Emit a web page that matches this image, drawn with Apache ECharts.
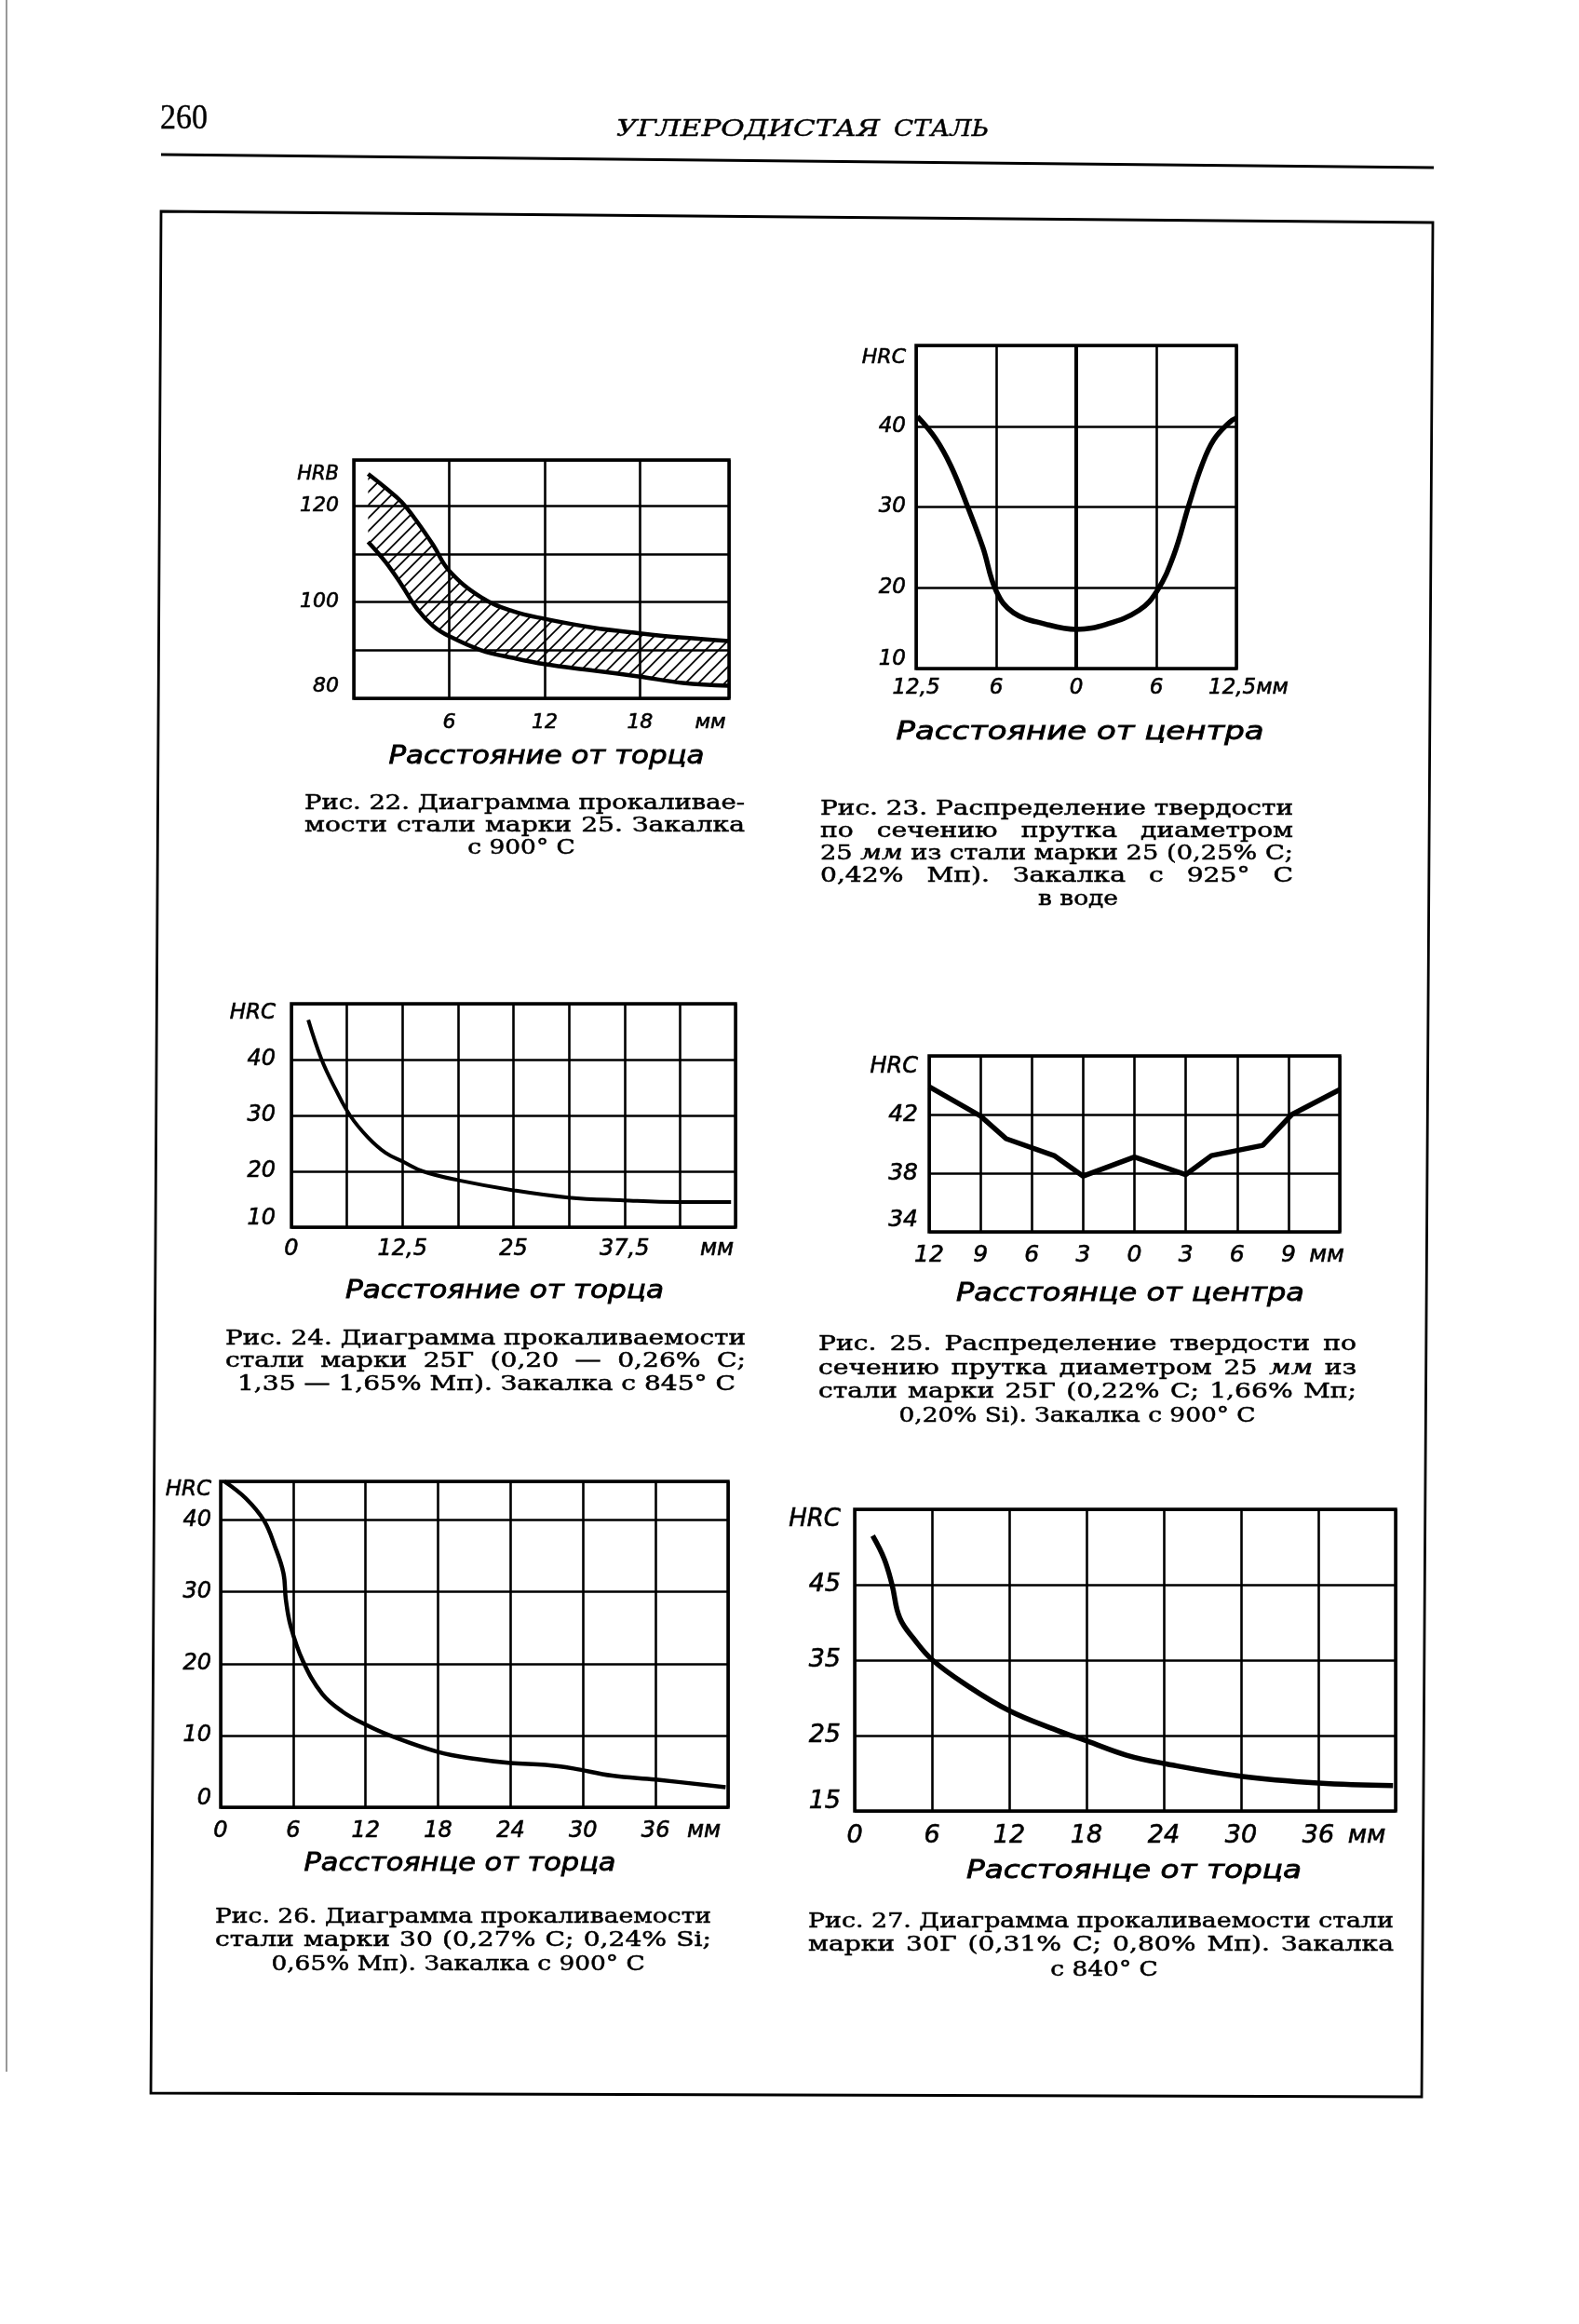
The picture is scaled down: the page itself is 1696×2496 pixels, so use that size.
<!DOCTYPE html>
<html lang="ru">
<head>
<meta charset="utf-8">
<title>Углеродистая сталь — с. 260</title>
<script src="https://cdn.jsdelivr.net/npm/echarts@6/dist/echarts.min.js"></script>
<style>
  html, body { margin: 0; padding: 0; background: #fff; }
  #page { width: 1696px; height: 2496px; }
</style>
</head>
<body>
<div id="page"></div>
<script>
// values (mm, HRB / HRC)

// Рис. 22 — band of hardenability, steel 25
const fig22X = [0.9, 2, 3, 4, 5, 6, 8, 10, 12, 15, 18, 20.7, 23.6];
const fig22Upper = [126.6, 123.7, 120.8, 116.6, 111.8, 106.5, 101.0, 98.1, 96.5, 94.7, 93.5, 92.6, 91.9];
const fig22Lower = [112.5, 108.3, 103.6, 98.5, 95.0, 92.9, 90.0, 88.4, 87.1, 85.8, 84.5, 83.2, 82.6];
const fig22XTicks = [6, 12, 18, 23.6];
const fig22XLabels = ['6', '12', '18', 'мм'];
const fig22YTicks = [80, 100, 120, 129.5];
const fig22YLabels = ['80', '100', '120', 'HRB'];

// Рис. 23 — hardness across the bar section, steel 25
const fig23X = [-11.9, -10.55, -9.4, -8.2, -7.0, -6.0, -4.7, -2.3, 0, 2.3, 4.7, 6.05, 7.3, 8.45, 9.4, 10.3, 11.5, 12];
const fig23Hrc = [41.2, 38.5, 35.1, 30.3, 25.0, 19.6, 16.9, 15.5, 14.85, 15.5, 17.2, 19.6, 24.0, 30.3, 35.1, 38.3, 40.5, 41.0];
const fig23XTicks = [-12, -6, 0, 6, 12];
const fig23XLabels = ['12,5', '6', '0', '6', '12,5мм'];
const fig23YTicks = [10, 20, 30, 40, 50];
const fig23YLabels = ['10', '20', '30', '40', 'HRC'];

// Рис. 24 — hardenability, steel 25Г
const fig24X = [1.9, 3.4, 5.0, 6.6, 8.6, 10.6, 12.6, 14.8, 18.8, 25, 31.2, 37.4, 43.6, 49.5];
const fig24Hrc = [47.1, 40.0, 34.6, 30.0, 26.1, 23.3, 21.7, 20.0, 18.4, 16.6, 15.3, 14.8, 14.5, 14.5];
const fig24XTicks = [0, 12.5, 25, 37.5, 50];
const fig24XLabels = ['0', '12,5', '25', '37,5', 'мм'];
const fig24YTicks = [10, 20, 30, 40, 50];
const fig24YLabels = ['10', '20', '30', '40', 'HRC'];

// Рис. 25 — hardness across the bar section, steel 25Г
const fig25X = [-12, -9, -7.5, -4.7, -3, 0, 3, 4.5, 7.5, 9.2, 12];
const fig25Hrc = [43.9, 41.9, 40.35, 39.2, 37.8, 39.1, 37.9, 39.2, 39.9, 42.0, 43.7];
const fig25XTicks = [-12, -9, -6, -3, 0, 3, 6, 9, 12];
const fig25XLabels = ['12', '9', '6', '3', '0', '3', '6', '9', 'мм'];
const fig25YTicks = [34, 38, 42, 46];
const fig25YLabels = ['34', '38', '42', 'HRC'];

// Рис. 26 — hardenability, steel 30
const fig26X = [0.3, 2.1, 3.6, 4.5, 5.2, 5.4, 5.8, 6.8, 8.4, 10.1, 12.0, 14.0, 18.0, 21.2, 24.0, 26.9, 29.2, 32.4, 36.0, 41.8];
const fig26Hrc = [45.4, 43.0, 39.9, 36.3, 32.6, 28.9, 25.2, 20.4, 15.8, 13.3, 11.5, 10.0, 7.7, 6.7, 6.15, 5.9, 5.4, 4.4, 3.85, 2.8];
const fig26XTicks = [0, 6, 12, 18, 24, 30, 36, 42];
const fig26XLabels = ['0', '6', '12', '18', '24', '30', '36', 'мм'];
const fig26YTicks = [0, 10, 20, 30, 40, 45.4];
const fig26YLabels = ['0', '10', '20', '30', '40', 'HRC'];

// Рис. 27 — hardenability, steel 30Г
const fig27X = [1.4, 2.3, 2.9, 3.5, 4.7, 6.05, 8.5, 12.0, 15.7, 18.0, 21.1, 24.0, 30.0, 36.0, 41.8];
const fig27Hrc = [51.5, 48.4, 45.0, 40.6, 37.6, 35.0, 31.9, 28.3, 25.7, 24.3, 22.4, 21.3, 19.6, 18.7, 18.35];
const fig27XTicks = [0, 6, 12, 18, 24, 30, 36, 42];
const fig27XLabels = ['0', '6', '12', '18', '24', '30', '36', 'мм'];
const fig27YTicks = [15, 25, 35, 45, 55];
const fig27YLabels = ['15', '25', '35', '45', 'HRC'];

// captions
const cap22 = ['Рис. 22. Диаграмма прокаливае-', 'мости стали  марки 25. Закалка', 'с 900° С'];
const cap23 = ['Рис. 23. Распределение твердости', 'по сечению прутка диаметром', '25 мм из стали марки 25 (0,25% С;', '0,42% Мп). Закалка с 925° С', 'в воде'];
const cap24 = ['Рис. 24. Диаграмма прокаливаемости', 'стали марки 25Г (0,20 — 0,26% С;', '1,35 — 1,65% Мп). Закалка с 845° С'];
const cap25 = ['Рис. 25. Распределение твердости по', 'сечению прутка диаметром 25 мм из', 'стали марки 25Г (0,22% С; 1,66% Мп;', '0,20% Si). Закалка с 900° С'];
const cap26 = ['Рис. 26. Диаграмма прокаливаемости', 'стали марки 30 (0,27% С; 0,24% Si;', '0,65% Мп). Закалка с 900° С'];
const cap27 = ['Рис. 27. Диаграмма прокаливаемости стали', 'марки 30Г (0,31% С; 0,80% Мп). Закалка', 'с 840° С'];

const INK = '#000';
const LABEL_FAMILY = '"DejaVu Sans", sans-serif';
const TITLE_FONT = 'italic 27px "DejaVu Sans"';
const CAPTION_FONT = '22px "DejaVu Serif"';

const grids = [], xAxes = [], yAxes = [], series = [], graphics = [];

const measure = document.createElement('canvas').getContext('2d');
function textWidth(str, font) {
  measure.font = font;
  return measure.measureText(str).width;
}
function near(a, b) { return Math.abs(a - b) < 1e-6; }
function lookup(ticks, labels, v) {
  for (let i = 0; i < ticks.length; i++) {
    if (near(ticks[i], v)) return labels[i];
  }
  return '';
}

// diagonal "/" hatching tile for the band of fig. 22
function hatchTile(step, width) {
  const c = document.createElement('canvas');
  c.width = step; c.height = step;
  const g = c.getContext('2d');
  g.strokeStyle = INK; g.lineWidth = width;
  g.beginPath();
  g.moveTo(0, step); g.lineTo(step, 0);
  g.moveTo(-step / 2, step / 2); g.lineTo(step / 2, -step / 2);
  g.moveTo(step / 2, step * 1.5); g.lineTo(step * 1.5, step / 2);
  g.stroke();
  return c;
}

function text(str, x, y, font, opts) {
  const o = opts || {};
  graphics.push({
    type: 'text', x: x, y: y, scaleX: o.scaleX || 1, silent: true,
    style: {
      text: str, font: font, fill: INK, stroke: INK, lineWidth: o.weight || 0.5,
      align: o.align || 'left', verticalAlign: 'middle',
      textAlign: o.align || 'left', textVerticalAlign: 'middle'
    }
  });
}
// stretch a string to fill [x0, x1]
function fitText(str, x0, x1, y, font, weight) {
  text(str, x0, y, font, { scaleX: (x1 - x0) / textWidth(str, font), weight: weight });
}
// spread the words of a caption line over [x0, x1]
function justify(line, x0, x1, y) {
  const words = line.split(/\s+/);
  const fonts = words.map(w => (w === 'мм' ? 'italic ' : '') + CAPTION_FONT);
  const ws = words.map((w, i) => textWidth(w, fonts[i]));
  const sum = ws.reduce((a, b) => a + b, 0);
  const natural = sum + textWidth(' ', CAPTION_FONT) * (words.length - 1);
  const k = Math.min(1.28, Math.max(0.85, (x1 - x0) / natural));
  const gap = words.length > 1 ? (x1 - x0 - k * sum) / (words.length - 1) : 0;
  let x = x0;
  words.forEach((w, i) => {
    text(w, x, y, fonts[i], { scaleX: k });
    x += k * ws[i] + gap;
  });
}
function caption(lines, ys, x0, x1, last) {
  lines.forEach((line, i) => {
    if (i < lines.length - 1) justify(line, x0, x1, ys[i]);
    else if (last.range) justify(line, last.range[0], last.range[1], ys[i]);
    else text(line, last.center, ys[i], CAPTION_FONT, { align: 'center', scaleX: 1.2 });
  });
}

function panel(p) {
  const idx = grids.length;
  const fs = p.fontSize;
  const base = {
    fontStyle: 'italic', fontFamily: LABEL_FAMILY, fontSize: fs, color: INK,
    textBorderColor: INK, textBorderWidth: 0.6
  };
  grids.push({
    left: p.box[0], top: p.box[1], width: p.box[2], height: p.box[3],
    show: true, borderColor: INK, borderWidth: 3.5, backgroundColor: 'transparent'
  });
  const unitPad = p.x.unitPad || 0;
  xAxes.push({
    gridIndex: idx, type: 'value', min: p.x.min, max: p.x.max, interval: p.x.interval,
    axisLine: { show: false }, axisTick: { show: false },
    splitLine: { show: true, lineStyle: { color: INK, width: 2.6 } },
    axisLabel: Object.assign({}, base, {
      margin: p.x.margin, showMinLabel: true, showMaxLabel: true,
      formatter: v => {
        const s = lookup(p.x.ticks, p.x.labels, v);
        if (s && near(v, p.x.max)) return '{unit|' + s + '}';
        return s;
      },
      rich: {
        unit: Object.assign({}, base, {
          padding: unitPad >= 0 ? [0, unitPad, 0, 0] : [0, 0, 0, -unitPad]
        })
      }
    })
  });
  yAxes.push({
    gridIndex: idx, type: 'value', min: p.y.min, max: p.y.max, interval: p.y.interval,
    axisLine: { show: false }, axisTick: { show: false },
    splitLine: { show: true, lineStyle: { color: INK, width: 2.6 } },
    axisLabel: Object.assign({}, base, {
      margin: p.y.margin, showMinLabel: true, showMaxLabel: true,
      formatter: v => {
        const s = lookup(p.y.ticks, p.y.labels, v);
        if (!s) return '';
        if (near(v, p.y.max)) return '{hdr|' + s + '}';
        if (near(v, p.y.min)) return '{low|' + s + '}';
        return s;
      },
      rich: {
        hdr: Object.assign({}, base, { fontSize: Math.round(fs * 0.95), padding: [p.y.topPad, 0, 0, 0] }),
        low: Object.assign({}, base, { padding: [0, 0, p.y.botPad, 0] })
      }
    })
  });
  fitText(p.title.text, p.title.cx - p.title.w / 2, p.title.cx + p.title.w / 2, p.title.y, TITLE_FONT, 0.8);
  return idx;
}

function curve(idx, xs, ys, extra) {
  return Object.assign({
    type: 'line', xAxisIndex: idx, yAxisIndex: idx,
    data: xs.map((x, i) => [x, ys[i]]),
    symbol: 'none', showSymbol: false, smooth: 0.4,
    lineStyle: { color: INK, width: 4.5 }, itemStyle: { color: INK },
    silent: true, z: 3
  }, extra || {});
}

// ---- Рис. 22
const p22 = panel({
  box: [380, 494, 403, 256], fontSize: 22,
  x: { min: 0, max: 23.6, interval: 6, ticks: fig22XTicks, labels: fig22XLabels, margin: 15, unitPad: 40 },
  y: { min: 80, max: 129.5, interval: 10, ticks: fig22YTicks, labels: fig22YLabels, margin: 16, topPad: 32, botPad: 26 },
  title: { text: 'Расстояние от торца', cx: 587, y: 813, w: 339 }
});
const hatch = { image: hatchTile(14, 1.7), repeat: 'repeat' };
series.push({
  type: 'custom', xAxisIndex: p22, yAxisIndex: p22, silent: true, z: 2, clip: true,
  data: fig22X.map((x, i) => [x, fig22Upper[i], fig22Lower[i]]),
  encode: { x: 0, y: [1, 2] },
  renderItem: (params, api) => {
    if (params.dataIndexInside !== 0) return null;
    const n = params.dataInsideLength;
    const top = [], bottom = [];
    for (let i = 0; i < n; i++) {
      top.push(api.coord([api.value(0, i), api.value(1, i)]));
      bottom.push(api.coord([api.value(0, i), api.value(2, i)]));
    }
    bottom.reverse();
    // doubled end points keep the two short ends of the band straight
    const pts = [top[0]].concat(top, [top[n - 1]], [bottom[0]], bottom, [bottom[n - 1]]);
    return { type: 'polygon', shape: { points: pts, smooth: 0.4 }, style: { fill: hatch, stroke: null } };
  }
});
series.push(curve(p22, fig22X, fig22Upper));
series.push(curve(p22, fig22X, fig22Lower));

// ---- Рис. 23
const p23 = panel({
  box: [984, 371, 344, 347], fontSize: 23,
  x: { min: -12, max: 12, interval: 6, ticks: fig23XTicks, labels: fig23XLabels, margin: 10, unitPad: -26 },
  y: { min: 10, max: 50, interval: 10, ticks: fig23YTicks, labels: fig23YLabels, margin: 11, topPad: 26, botPad: 20 },
  title: { text: 'Расстояние от центра', cx: 1160, y: 787, w: 395 }
});
series.push(curve(p23, fig23X, fig23Hrc, {
  lineStyle: { color: INK, width: 5.5 },
  markLine: {
    symbol: 'none', silent: true, label: { show: false },
    lineStyle: { color: INK, width: 4, type: 'solid' },
    data: [{ xAxis: 0 }]
  }
}));

// ---- Рис. 24
const p24 = panel({
  box: [313, 1078, 477, 240], fontSize: 24,
  x: { min: 0, max: 50, interval: 6.25, ticks: fig24XTicks, labels: fig24XLabels, margin: 12, unitPad: 40 },
  y: { min: 10, max: 50, interval: 10, ticks: fig24YTicks, labels: fig24YLabels, margin: 17, topPad: 20, botPad: 18 },
  title: { text: 'Расстояние от торца', cx: 542, y: 1387, w: 342 }
});
series.push(curve(p24, fig24X, fig24Hrc, { lineStyle: { color: INK, width: 4 } }));

// ---- Рис. 25
const p25 = panel({
  box: [998, 1134, 441, 189], fontSize: 25,
  x: { min: -12, max: 12, interval: 3, ticks: fig25XTicks, labels: fig25XLabels, margin: 13, unitPad: 28 },
  y: { min: 34, max: 46, interval: 4, ticks: fig25YTicks, labels: fig25YLabels, margin: 12, topPad: 24, botPad: 26 },
  title: { text: 'Расстоянце от центра', cx: 1214, y: 1390, w: 374 }
});
series.push(curve(p25, fig25X, fig25Hrc, { smooth: false, lineStyle: { color: INK, width: 5.5 } }));

// ---- Рис. 26
const p26 = panel({
  box: [237, 1591, 545, 350], fontSize: 24,
  x: { min: 0, max: 42, interval: 6, ticks: fig26XTicks, labels: fig26XLabels, margin: 14, unitPad: 52 },
  y: { min: 0, max: 45.4, interval: 10, ticks: fig26YTicks, labels: fig26YLabels, margin: 10, topPad: 18, botPad: 18 },
  title: { text: 'Расстоянце от торца', cx: 494, y: 2002, w: 335 }
});
series.push(curve(p26, fig26X, fig26Hrc, { lineStyle: { color: INK, width: 4.5 } }));

// ---- Рис. 27
const p27 = panel({
  box: [918, 1621, 581, 324], fontSize: 27,
  x: { min: 0, max: 42, interval: 6, ticks: fig27XTicks, labels: fig27XLabels, margin: 13, unitPad: 62 },
  y: { min: 15, max: 55, interval: 10, ticks: fig27YTicks, labels: fig27YLabels, margin: 15, topPad: 22, botPad: 20 },
  title: { text: 'Расстоянце от торца', cx: 1218, y: 2010, w: 360 }
});
series.push(curve(p27, fig27X, fig27Hrc, { lineStyle: { color: INK, width: 5.5 } }));

// captions under the figures
caption(cap22, [863, 887, 911], 327, 800, { center: 560 });
caption(cap23, [869, 893, 917, 941, 966], 881, 1389, { center: 1158 });
caption(cap24, [1438, 1462, 1487], 242, 801, { range: [255, 790] });
caption(cap25, [1444, 1470, 1495, 1521], 879, 1457, { center: 1157 });
caption(cap26, [2059, 2084, 2110], 231, 764, { center: 492 });
caption(cap27, [2064, 2089, 2116], 868, 1497, { center: 1186 });

// running head and page frame
fitText('260', 172, 223, 128, '38px "Liberation Serif"', 0.4);
fitText('УГЛЕРОДИСТАЯ', 662, 945, 139, 'italic 25px "DejaVu Serif"', 0.4);
fitText('СТАЛЬ', 960, 1062, 139, 'italic 25px "DejaVu Serif"', 0.4);
graphics.push(
  { type: 'line', silent: true, shape: { x1: 173, y1: 166, x2: 1540, y2: 180 }, style: { stroke: INK, lineWidth: 2.8 } },
  { type: 'polygon', silent: true, shape: { points: [[173, 227], [1539, 239], [1527, 2252], [162, 2248]] },
    style: { fill: null, stroke: INK, lineWidth: 2.8 } },
  { type: 'line', silent: true, shape: { x1: 7, y1: 0, x2: 7, y2: 2225 }, style: { stroke: '#555', lineWidth: 1.2 } }
);

const chart = echarts.init(document.getElementById('page'));
chart.setOption({
  animation: false,
  backgroundColor: '#fff',
  grid: grids,
  xAxis: xAxes,
  yAxis: yAxes,
  series: series,
  graphic: { elements: graphics }
});
</script>
</body>
</html>
